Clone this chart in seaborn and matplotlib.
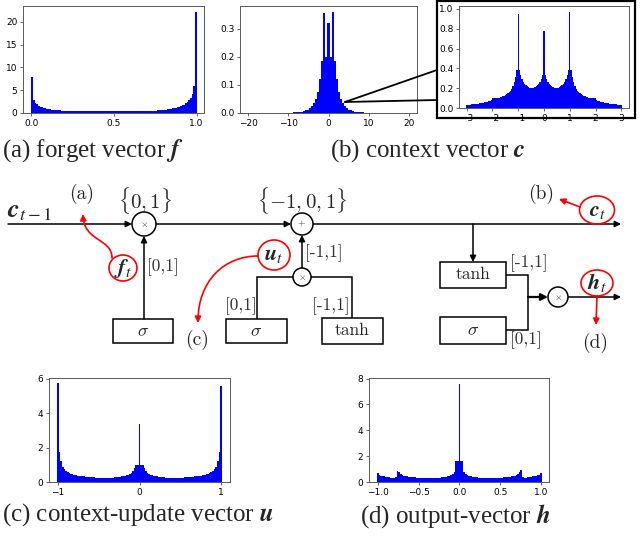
import numpy as np
import seaborn as sns
import matplotlib.pyplot as plt
from matplotlib.patches import Ellipse, Circle, Rectangle, FancyArrowPatch
from matplotlib.path import Path

# bar heights

# (a) forget vector, 100 bins over [0, 1]
forget_h = [8.0, 2.8, 2.3, 1.9, 1.6, 1.4, 1.25, 1.1, 1.0, 0.92,
            0.85, 0.8, 0.75, 0.7, 0.66, 0.62, 0.59, 0.56, 0.54, 0.52,
            0.5, 0.48, 0.47, 0.46, 0.45, 0.44, 0.43, 0.42, 0.41, 0.40,
            0.39, 0.38, 0.38, 0.37, 0.37, 0.36, 0.36, 0.35, 0.35, 0.35,
            0.34, 0.34, 0.34, 0.34, 0.33, 0.33, 0.33, 0.33, 0.33, 0.33,
            0.33, 0.33, 0.33, 0.33, 0.34, 0.34, 0.34, 0.34, 0.35, 0.35,
            0.35, 0.36, 0.36, 0.37, 0.37, 0.38, 0.39, 0.40, 0.41, 0.42,
            0.44, 0.45, 0.47, 0.49, 0.51, 0.53, 0.56, 0.59, 0.62, 0.66,
            0.70, 0.75, 0.80, 0.86, 0.93, 1.0, 1.1, 1.2, 1.3, 1.4,
            1.5, 1.65, 1.85, 2.1, 2.4, 2.8, 3.4, 4.2, 6.0, 22.2]

# (b) context vector, bins of 0.5 centred on -10 ... 10
context_h = [0.0008, 0.001, 0.0015, 0.002, 0.0025, 0.003, 0.004, 0.005, 0.007, 0.009,
             0.012, 0.017, 0.024, 0.034, 0.05, 0.075, 0.12, 0.185, 0.355, 0.20,
             0.32,
             0.20, 0.36, 0.185, 0.12, 0.075, 0.05, 0.034, 0.024, 0.017, 0.012,
             0.009, 0.007, 0.005, 0.004, 0.003, 0.0025, 0.002, 0.0015, 0.001, 0.0008]

# (b) zoomed inset, bins of 0.05 centred on -3 ... 3
inset_left = [0.030, 0.032, 0.034, 0.035, 0.037, 0.038, 0.040, 0.041, 0.043, 0.045,
              0.047, 0.049, 0.051, 0.054, 0.057, 0.060, 0.064, 0.068, 0.074, 0.085,
              0.100, 0.100, 0.100, 0.101, 0.103, 0.105, 0.108, 0.112, 0.117, 0.123,
              0.130, 0.138, 0.148, 0.160, 0.175, 0.195, 0.220, 0.260, 0.310, 0.380,
              0.950, 0.380, 0.330, 0.290, 0.265, 0.245, 0.230, 0.220, 0.212, 0.206,
              0.203, 0.203, 0.206, 0.212, 0.220, 0.230, 0.245, 0.265, 0.290, 0.330,
              0.780]
inset_right = [0.330, 0.290, 0.265, 0.245, 0.230, 0.220, 0.212, 0.206, 0.203, 0.203,
               0.206, 0.212, 0.220, 0.230, 0.245, 0.265, 0.290, 0.330, 0.380, 0.970,
               0.380, 0.310, 0.260, 0.220, 0.195, 0.175, 0.160, 0.148, 0.138, 0.130,
               0.123, 0.117, 0.112, 0.108, 0.105, 0.103, 0.101, 0.100, 0.100, 0.100,
               0.085, 0.074, 0.068, 0.064, 0.060, 0.057, 0.054, 0.051, 0.049, 0.047,
               0.045, 0.043, 0.041, 0.040, 0.038, 0.037, 0.035, 0.034, 0.032, 0.030]

# (c) context-update vector, bins of 0.02 centred on -1 ... 1
update_left = [5.75, 1.75, 1.2, 0.9, 0.75, 0.65, 0.57, 0.52, 0.48, 0.44,
               0.41, 0.39, 0.37, 0.35, 0.34, 0.33, 0.32, 0.31, 0.30, 0.29,
               0.28, 0.27, 0.265, 0.26, 0.255, 0.25, 0.245, 0.24, 0.24, 0.24,
               0.24, 0.245, 0.25, 0.255, 0.26, 0.27, 0.28, 0.29, 0.30, 0.32,
               0.34, 0.36, 0.39, 0.43, 0.48, 0.55, 0.65, 0.80, 1.0, 1.0,
               3.4]
update_right = [1.0, 1.0, 0.80, 0.65, 0.55, 0.48, 0.43, 0.39, 0.36, 0.34,
                0.32, 0.30, 0.29, 0.28, 0.27, 0.26, 0.255, 0.25, 0.245, 0.24,
                0.24, 0.24, 0.24, 0.245, 0.25, 0.255, 0.26, 0.265, 0.27, 0.28,
                0.29, 0.30, 0.31, 0.32, 0.33, 0.34, 0.35, 0.37, 0.39, 0.41,
                0.44, 0.48, 0.52, 0.57, 0.65, 0.75, 0.9, 1.2, 1.75, 5.6]

# (d) output vector, bins of 0.02 centred on -1 ... 1
output_left = [0.72, 0.55, 0.50, 0.47, 0.44, 0.41, 0.38, 0.36, 0.34, 0.33,
               0.33, 0.40, 0.88, 0.75, 0.62, 0.55, 0.50, 0.46, 0.43, 0.41,
               0.39, 0.37, 0.36, 0.35, 0.34, 0.33, 0.32, 0.32, 0.31, 0.31,
               0.31, 0.31, 0.31, 0.31, 0.31, 0.32, 0.32, 0.33, 0.34, 0.35,
               0.36, 0.38, 0.40, 0.43, 0.47, 0.53, 0.62, 0.80, 1.6, 1.6,
               7.6]
output_right = [1.6, 1.6, 0.80, 0.62, 0.53, 0.47, 0.43, 0.40, 0.38, 0.36,
                0.35, 0.34, 0.33, 0.32, 0.32, 0.31, 0.31, 0.31, 0.31, 0.31,
                0.31, 0.31, 0.32, 0.32, 0.33, 0.34, 0.35, 0.36, 0.37, 0.39,
                0.41, 0.43, 0.46, 0.50, 0.55, 0.62, 0.75, 0.90, 0.40, 0.33,
                0.34, 0.36, 0.38, 0.41, 0.44, 0.47, 0.50, 0.53, 0.56, 0.72]

captions = [r'(a) forget vector $\mathbfit{f}$',
            r'(b) context vector $\mathbfit{c}$',
            r'(c) context-update vector $\mathbfit{u}$',
            r'(d) output-vector $\mathbfit{h}$']

sns.set_style('ticks')
plt.rcParams['font.family'] = ['DejaVu Sans']

W, H = 640, 551
fig = plt.figure(figsize=(W / 100, H / 100), dpi=100)


def px_axes(x0, y0, x1, y1):
    return fig.add_axes([x0 / W, 1 - y1 / H, (x1 - x0) / W, (y1 - y0) / H])


def hist(ax, centers, heights, edges, xlim, ylim, xticks, yticks):
    sns.histplot(x=list(centers), weights=list(heights), bins=list(edges), ax=ax,
                 element='step', fill=True, color='blue', alpha=1, linewidth=0)
    ax.set_xlabel('')
    ax.set_ylabel('')
    ax.set_xlim(*xlim)
    ax.set_ylim(*ylim)
    ax.set_xticks(xticks)
    ax.set_yticks(yticks)
    ax.tick_params(labelsize=6.5, length=2.5, width=0.6, pad=1.5, color='0.3',
                   labelcolor='black')
    for s in ax.spines.values():
        s.set_visible(True)
        s.set_linewidth(0.7)
        s.set_color('0.35')


# (a)
e = np.linspace(0, 1, 101)
ax_a = px_axes(23, 6, 204, 113)
hist(ax_a, e[:-1] + 0.005, forget_h, e, (-0.05, 1.045), (0, 23.5),
     [0, 0.5, 1.0], [0, 5, 10, 15, 20])
ax_a.set_xticklabels(['0.0', '0.5', '1.0'])

# (b)
ax_b = px_axes(240, 6, 417, 113)
hist(ax_b, np.linspace(-10, 10, 41), context_h, np.linspace(-10.25, 10.25, 42),
     (-22.1, 22.1), (0, 0.38), [-20, -10, 0, 10, 20], [0, 0.1, 0.2, 0.3])

# inset
ax_i = px_axes(459, 6, 629, 108)
hist(ax_i, np.linspace(-3, 3, 121), inset_left + inset_right,
     np.linspace(-3.025, 3.025, 122), (-3.3, 3.3), (0, 1.03),
     [-3, -2, -1, 0, 1, 2, 3], [0, 0.2, 0.4, 0.6, 0.8, 1.0])

# (c)
ax_c = px_axes(49, 378, 230, 482)
hist(ax_c, np.linspace(-1, 1, 101), update_left + update_right,
     np.linspace(-1.01, 1.01, 102), (-1.11, 1.11), (0, 6.05),
     [-1, 0, 1], [0, 2, 4, 6])

# (d)
ax_d = px_axes(369, 378, 549, 482)
hist(ax_d, np.linspace(-1, 1, 101), output_left + output_right,
     np.linspace(-1.01, 1.01, 102), (-1.11, 1.1), (0, 8.05),
     [-1, -0.5, 0, 0.5, 1], [0, 2, 4, 6, 8])

# overlay in pixel coordinates for the diagram, captions and zoom lines
ov = fig.add_axes([0, 0, 1, 1], zorder=10)
ov.set_xlim(0, W)
ov.set_ylim(H, 0)
ov.axis('off')

cap_font = dict(fontfamily='Liberation Serif', fontsize=18, math_fontfamily='stix',
                va='center', ha='left')
for (x, y), s in zip([(2, 151), (330, 151), (2, 515), (360, 516)], captions):
    ov.text(x, y, s, **cap_font)

# zoom callout
ov.add_patch(Rectangle((437, 1), 198, 117, fill=False, ec='k', lw=1.6))
ov.plot([345, 437], [102, 70], color='k', lw=1.3)
ov.plot([345, 437], [102, 100], color='k', lw=1.3)

LW = 1.1


def arrow(p0, p1, color='k', lw=LW, ms=9):
    ov.add_patch(FancyArrowPatch(p0, p1, arrowstyle='-|>', mutation_scale=ms,
                                 color=color, lw=lw, shrinkA=0, shrinkB=0))


def curve(pts, color='red'):
    path = Path(pts, [Path.MOVETO, Path.CURVE4, Path.CURVE4, Path.CURVE4])
    ov.add_patch(FancyArrowPatch(path=path, arrowstyle='-|>', mutation_scale=9,
                                 color=color, lw=1.2))


def line(xs, ys):
    ov.plot(xs, ys, color='k', lw=LW, solid_capstyle='butt', solid_joinstyle='miter')


def box(x0, y0, x1, y1, label, math=False):
    ov.add_patch(Rectangle((x0, y0), x1 - x0, y1 - y0, fill=False, ec='k', lw=LW))
    if math:
        ov.text((x0 + x1) / 2, (y0 + y1) / 2, label, ha='center', va='center',
                fontsize=13, math_fontfamily='cm')
    else:
        ov.text((x0 + x1) / 2, (y0 + y1) / 2 - 1, label, ha='center', va='center',
                fontsize=12.5, fontfamily='cmr10')


def node(cx, cy, r, sym):
    ov.add_patch(Circle((cx, cy), r, fc='white', ec='k', lw=LW, zorder=3))
    ov.text(cx, cy, sym, ha='center', va='center', fontsize=7,
            math_fontfamily='cm', zorder=4)


def small(x, y, s, ha='left'):
    ov.text(x, y, s, ha=ha, va='center', fontsize=12.5, fontfamily='cmr10', color='0.2')


def bold(x, y, s, size=16, ha='center'):
    ov.text(x, y, s, ha=ha, va='center', fontsize=size, math_fontfamily='stix')


def tag(x, y, s):
    ov.text(x, y, s, ha='center', va='center', fontsize=14, fontfamily='cmr10')


# cell state line
arrow((8, 224), (132, 224))
arrow((156, 224), (291, 224))
arrow((313, 224), (621, 224))
node(144, 224, 12, r'$\times$')
node(302, 224, 11, r'$+$')
bold(7, 210, r'$\mathbfit{c}_{t-1}$', size=19, ha='left')
ov.text(145, 200, r'$\{0,1\}$', ha='center', va='center', fontsize=15, math_fontfamily='cm')
ov.text(302, 200, r'$\{-1,0,1\}$', ha='center', va='center', fontsize=15, math_fontfamily='cm')

# forget gate
box(113, 319, 173, 343, r'$\sigma$', math=True)
arrow((144, 319), (144, 236))
small(147, 267, '[0,1]')

# update gate
node(302, 277, 9, r'$\times$')
arrow((302, 268), (302, 235))
small(305, 253, '[-1,1]')
line([293, 257, 257], [277, 277, 319])
line([311, 352, 352], [277, 277, 318])
box(226, 319, 287, 343, r'$\sigma$', math=True)
box(322, 318, 383, 344, 'tanh')
small(225, 306, '[0,1]')
small(350, 306, '[-1,1]', ha='right')

# output gate
arrow((473, 224), (473, 262))
box(440, 262, 506, 288, 'tanh')
box(440, 317, 506, 344, r'$\sigma$', math=True)
small(510, 263, '[-1,1]')
small(510, 340, '[0,1]')
line([506, 528, 528, 506], [275, 275, 330, 330])
arrow((528, 297), (548, 297), lw=1.6, ms=10)
node(558, 297, 10, r'$\times$')
arrow((568, 297), (621, 297))

# red annotations
red = 'red'
ov.add_patch(Ellipse((123, 268), 28, 26, fill=False, ec=red, lw=1.2))
bold(123, 268, r'$\mathbfit{f}_t$')
curve([(112, 258), (112, 238), (84, 242), (83, 214)])
tag(82, 194, '(a)')

ov.add_patch(Ellipse((274, 255), 32, 30, fill=False, ec=red, lw=1.2))
bold(274, 255, r'$\mathbfit{u}_t$')
curve([(258, 256), (225, 256), (198, 280), (198, 323)])
tag(197, 340, '(c)')

ov.add_patch(Ellipse((597, 210), 35, 28, fill=False, ec=red, lw=1.2))
bold(597, 211, r'$\mathbfit{c}_t$')
arrow((580, 207), (559, 199), color=red, lw=1.2)
tag(541, 194, '(b)')

ov.add_patch(Ellipse((597, 283), 32, 26, fill=False, ec=red, lw=1.2))
bold(597, 283, r'$\mathbfit{h}_t$')
arrow((597, 296), (596, 325), color=red, lw=1.2)
tag(595, 343, '(d)')

fig.savefig('out.png', dpi=100)
